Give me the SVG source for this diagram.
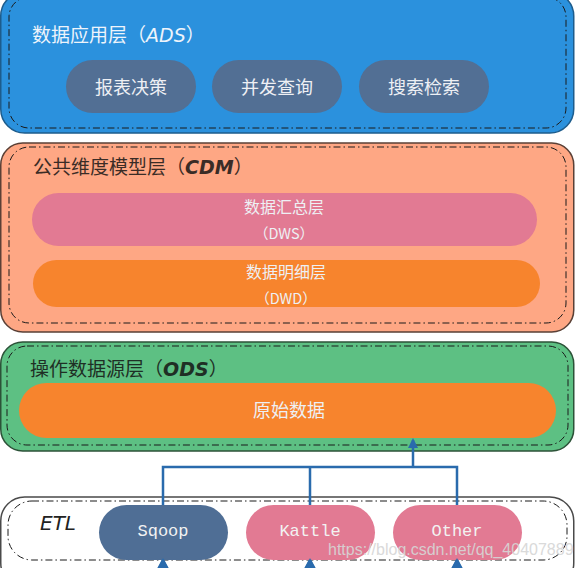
<svg xmlns="http://www.w3.org/2000/svg" width="581" height="568" viewBox="0 0 581 568">
<defs>
<style>
.outer{stroke-width:1.5}
.inner{fill:none;stroke:#1a1a1a;stroke-width:1;stroke-dasharray:7 3 1.5 3}
.cjk{font-family:"Noto Sans CJK SC","Noto Sans",sans-serif}
.ttl{font-size:19px}
.lat{font-family:"DejaVu Sans","Noto Sans",sans-serif;font-style:italic}
.pt{font-size:18px;fill:#eef0f4;text-anchor:middle;dominant-baseline:central}
.sm{font-size:16px}
.sub{font-size:14.5px}
.mono{font-family:"Liberation Mono","DejaVu Sans Mono",monospace;font-size:17px;fill:#f2f2f2;text-anchor:middle;dominant-baseline:central}
.con{fill:none;stroke:#2a6bad;stroke-width:2.5}
</style>
<marker id="ah" viewBox="0 0 10 10" refX="8" refY="5" markerWidth="4" markerHeight="4" orient="auto">
<path d="M0,0 L10,5 L0,10 z" fill="#2a6bad"/>
</marker>
</defs>
<rect width="581" height="568" fill="#ffffff"/>

<g id="ads">
<rect class="outer" x="0.75" y="-8" width="573" height="141" rx="24" fill="#2b91dd" stroke="#1d5c8c"/>
<rect class="inner" x="9" y="-3" width="557" height="131" rx="20"/>
<text class="cjk ttl" x="32" y="42" fill="#eef4fb">数据应用层（<tspan class="lat">ADS</tspan>）</text>
</g>
<g id="ads-report">
<rect x="66" y="60" width="130" height="53" rx="26.5" fill="#526f94"/>
<text class="cjk pt" x="131" y="86">报表决策</text>
</g>
<g id="ads-query">
<rect x="212" y="60" width="130" height="53" rx="26.5" fill="#526f94"/>
<text class="cjk pt" x="277" y="86">并发查询</text>
</g>
<g id="ads-search">
<rect x="359" y="60" width="130" height="53" rx="26.5" fill="#526f94"/>
<text class="cjk pt" x="424" y="86">搜索检索</text>
</g>

<g id="cdm">
<rect class="outer" x="0.75" y="143" width="573" height="189" rx="22" fill="#fea784" stroke="#5a4036"/>
<rect class="inner" x="9" y="147" width="557" height="176" rx="20"/>
<text class="cjk ttl" x="33" y="174" fill="#3a2c26">公共维度模型层（<tspan class="lat" font-weight="bold">CDM</tspan>）</text>
</g>
<g id="dws">
<rect x="32" y="193" width="505" height="53" rx="26.5" fill="#e27a93"/>
<text class="cjk pt sm" x="284" y="206">数据汇总层</text>
<text class="cjk pt sub" x="284" y="232">（DWS）</text>
</g>
<g id="dwd">
<rect x="33" y="260" width="507" height="47" rx="23.5" fill="#f7842d"/>
<text class="cjk pt sm" x="286" y="271">数据明细层</text>
<text class="cjk pt sub" x="286" y="297">（DWD）</text>
</g>

<g id="ods">
<rect class="outer" x="0.75" y="342" width="573" height="109" rx="22" fill="#5dc083" stroke="#2c5238"/>
<rect class="inner" x="7" y="346" width="561" height="99" rx="20"/>
<text class="cjk ttl" x="30" y="376" fill="#1f2f25">操作数据源层（<tspan class="lat" font-weight="bold">ODS</tspan>）</text>
</g>
<g id="raw">
<rect x="19" y="383" width="537" height="55" rx="27.5" fill="#f7842d"/>
<text class="cjk pt" x="289" y="409">原始数据</text>
</g>

<g id="etl">
<rect class="outer" x="0.75" y="497" width="573" height="90" rx="24" fill="#ffffff" stroke="#4a4a4a"/>
<rect class="inner" x="8" y="501" width="559" height="59" rx="24"/>
<text x="40" y="530" font-family="DejaVu Sans, sans-serif" font-style="italic" font-size="20" fill="#222">ETL</text>
</g>
<g id="sqoop">
<rect x="99" y="505" width="129" height="55" rx="27.5" fill="#4f6e95"/>
<text class="mono" x="163" y="531">Sqoop</text>
</g>
<g id="kattle">
<rect x="246" y="505" width="129" height="55" rx="27.5" fill="#e27a93"/>
<text class="mono" x="310" y="531">Kattle</text>
</g>
<g id="other">
<rect x="393" y="505" width="129" height="55" rx="27.5" fill="#e27a93"/>
<text class="mono" x="457" y="531">Other</text>
</g>

<g id="connectors">
<path class="con" d="M163,505 V467 H457 V505 M310,505 V467"/>
<path class="con" d="M413,467 V440" marker-end="url(#ah)"/>
<path class="con" d="M155,575 L163,560 M171,575 L163,560 M163,575 V560" marker-end="url(#ah)"/>
<path class="con" d="M302,575 L310,560 M318,575 L310,560 M310,575 V560" marker-end="url(#ah)"/>
<path class="con" d="M449,575 L457,560 M465,575 L457,560 M457,575 V560" marker-end="url(#ah)"/>
</g>

<text x="328" y="555" font-family="Liberation Sans, Arial, sans-serif" font-size="16" fill="#d6d6d6" opacity="0.9">https://blog.csdn.net/qq_40407889</text>
</svg>
